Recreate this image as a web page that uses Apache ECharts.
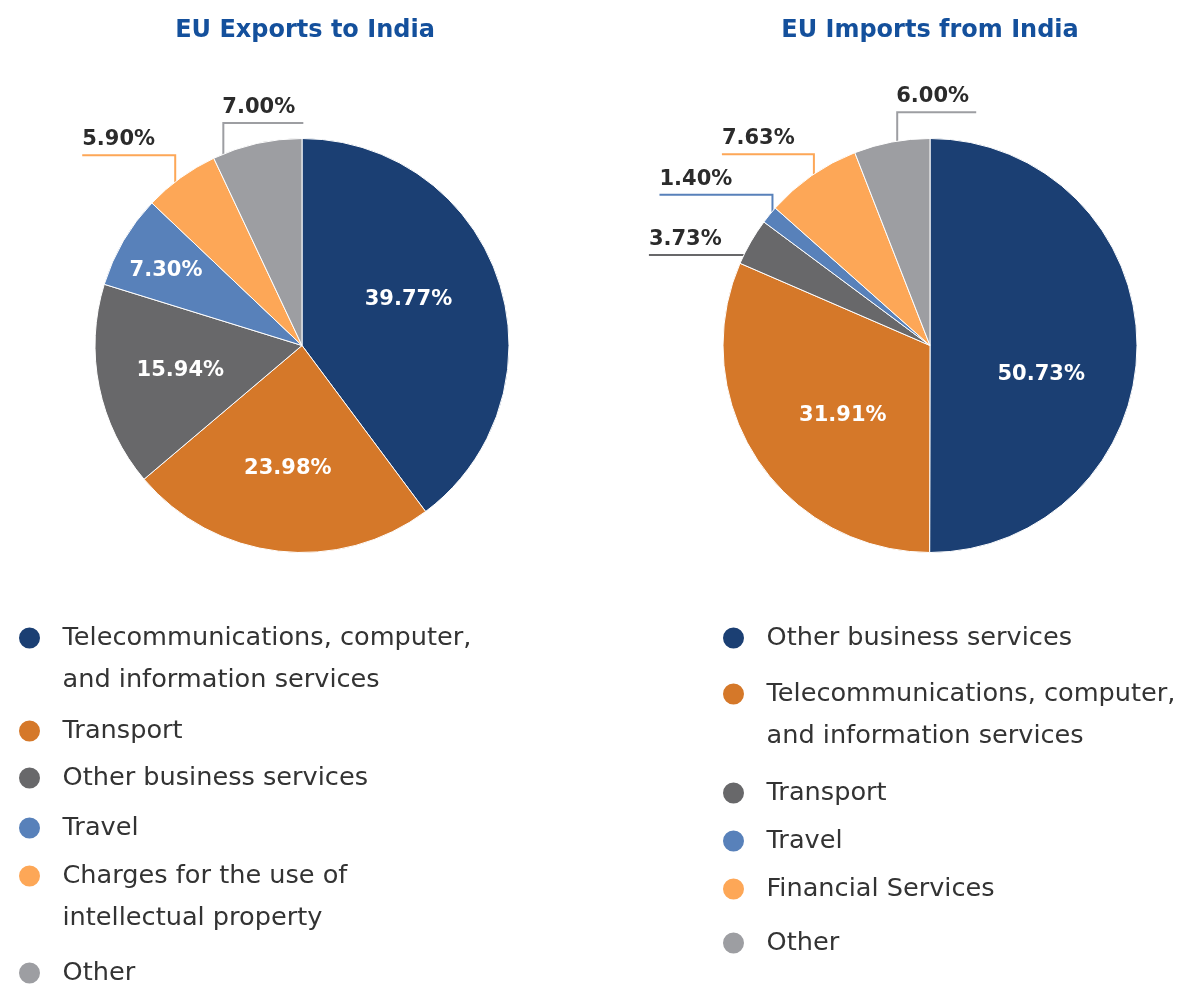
<!DOCTYPE html>
<html>
<head>
<meta charset="utf-8">
<script src="https://cdn.jsdelivr.net/npm/echarts@6/dist/echarts.min.js"></script>
<style>
  html, body { margin: 0; padding: 0; background: #ffffff; }
  #chart { width: 1184px; height: 985px; }
</style>
</head>
<body>
<div id="chart"></div>
<script>
// ---- Data -------------------------------------------------------------
const exportTitle = 'EU Exports to India';
const exportCategories = [
  'Telecommunications, computer,\nand information services',
  'Transport',
  'Other business services',
  'Travel',
  'Charges for the use of\nintellectual property',
  'Other'
];
const exportValues = [39.77, 23.98, 15.94, 7.30, 5.90, 7.00];

const importTitle = 'EU Imports from India';
const importCategories = [
  'Other business services',
  'Telecommunications, computer,\nand information services',
  'Transport',
  'Travel',
  'Financial Services',
  'Other'
];
const importValues = [50.73, 31.91, 3.73, 1.40, 7.63, 6.00];

// ---- Style / layout ---------------------------------------------------
const sliceColors = ['#1b3f73', '#d57829', '#68686a', '#5881ba', '#fda757', '#9d9ea2'];
const FONT = 'DejaVu Sans';
const RADIUS = 207;
const exportCenter = [302, 345.5];
const importCenter = [930, 345.5];

// Labels drawn inside the slice: radial position (fraction of radius)
// and a small angular nudge from the slice middle (degrees)
const exportInside = {
  0: { r: 0.56, turn: -5 },
  1: { r: 0.6, turn: 0 },
  2: { r: 0.6, turn: 0 },
  3: { r: 0.75, turn: -1.5 }
};
const importInside = {
  0: { r: 0.555, turn: 14.5 },
  1: { r: 0.54, turn: -5.5 }
};
// Labels drawn outside: where the leader starts along the slice (0..1),
// how far it rises, and how far the horizontal run goes (negative = left)
const exportOutside = {
  4: { at: 0.40, rise: 28, run: -93 },
  5: { at: 0.11, rise: 32, run: 80 }
};
const importOutside = {
  2: { at: 0.20, rise: 0, run: -96 },
  3: { at: 0.70, rise: 18, run: -113 },
  4: { at: 0.52, rise: 21, run: -92 },
  5: { at: 0.57, rise: 30, run: 79 }
};

// First-line centre of each legend entry
const exportLegendY = [638, 731, 778, 828, 876, 973];
const importLegendY = [638, 694, 793, 841, 889, 943];

// ---- Helpers ----------------------------------------------------------
function sliceAngles(values) {
  const total = values.reduce((a, b) => a + b, 0);
  let acc = 0;
  return values.map(v => {
    const start = acc / total * 360;
    acc += v;
    return [start, acc / total * 360];
  });
}

function polar(center, r, deg) {
  const a = deg * Math.PI / 180;
  return [center[0] + r * Math.sin(a), center[1] - r * Math.cos(a)];
}

function makeLabelLayout(values, center, insideSpec, outsideSpec) {
  const angles = sliceAngles(values);
  return function (params) {
    const i = params.dataIndex;
    const [s, e] = angles[i];
    const inner = insideSpec[i];
    if (inner) {
      const p = polar(center, RADIUS * inner.r, (s + e) / 2 + inner.turn);
      return { x: p[0], y: p[1], align: 'center', verticalAlign: 'middle' };
    }
    const spec = outsideSpec[i];
    const anchor = polar(center, RADIUS - 1, s + (e - s) * spec.at);
    const lineY = anchor[1] - spec.rise;
    const endX = anchor[0] + spec.run;
    const textX = spec.run < 0 ? endX : anchor[0] - 1;
    return {
      x: textX,
      y: lineY - 5,
      align: 'left',
      verticalAlign: 'bottom',
      labelLinePoints: [[anchor[0], anchor[1]], [anchor[0], lineY], [endX, lineY]]
    };
  };
}

function buildData(categories, values, insideSpec) {
  return categories.map((name, i) => {
    const inside = !!insideSpec[i];
    return {
      name: name,
      value: values[i],
      itemStyle: { color: sliceColors[i] },
      label: inside
        ? { position: 'inside', color: '#ffffff' }
        : { position: 'outside', color: '#2b2b2b' },
      labelLine: inside
        ? { show: false }
        : { show: true, lineStyle: { color: sliceColors[i], width: 2 } }
    };
  });
}

function pieSeries(categories, values, center, insideSpec, outsideSpec) {
  return {
    type: 'pie',
    center: center,
    radius: RADIUS,
    startAngle: 90,
    clockwise: true,
    avoidLabelOverlap: false,
    silent: true,
    itemStyle: { borderColor: '#ffffff', borderWidth: 1 },
    label: {
      show: true,
      fontFamily: FONT,
      fontSize: 21,
      fontWeight: 'bold',
      formatter: p => p.value.toFixed(2) + '%'
    },
    labelLine: { show: true, length: 10, length2: 10, smooth: false },
    labelLayout: makeLabelLayout(values, center, insideSpec, outsideSpec),
    data: buildData(categories, values, insideSpec)
  };
}

// One legend block per entry so each row sits at its own height; wrapped
// names get blank leading lines so the dot lines up with the first line.
function legendEntries(categories, ys, left) {
  const lh = 42;
  return categories.map((name, i) => {
    const lines = name.split('\n').length;
    const lead = lines - 1;
    const boxH = (lines + lead) * lh;
    return {
      orient: 'vertical',
      left: left,
      top: ys[i] - boxH / 2,
      padding: 0,
      itemWidth: 56,
      itemHeight: 23,
      icon: 'circle',
      selectedMode: false,
      data: [{ name: name, itemStyle: { color: sliceColors[i] } }],
      formatter: n => ' \n'.repeat(lead) + n,
      textStyle: {
        fontFamily: FONT,
        fontSize: 25.6,
        lineHeight: lh,
        color: '#333333'
      }
    };
  });
}

// ---- Chart ------------------------------------------------------------
const chart = echarts.init(document.getElementById('chart'), null, { renderer: 'canvas' });

const titleStyle = { fontFamily: FONT, fontSize: 24, fontWeight: 'bold', color: '#14509c' };

chart.setOption({
  backgroundColor: '#ffffff',
  animation: false,
  title: [
    { text: exportTitle, left: exportCenter[0] + 3, top: 19, padding: 0, textAlign: 'center', textStyle: titleStyle },
    { text: importTitle, left: importCenter[0], top: 19, padding: 0, textAlign: 'center', textStyle: titleStyle }
  ],
  legend: [
    ...legendEntries(exportCategories, exportLegendY, 17),
    ...legendEntries(importCategories, importLegendY, 721)
  ],
  series: [
    pieSeries(exportCategories, exportValues, exportCenter, exportInside, exportOutside),
    pieSeries(importCategories, importValues, importCenter, importInside, importOutside)
  ]
});
</script>
</body>
</html>
